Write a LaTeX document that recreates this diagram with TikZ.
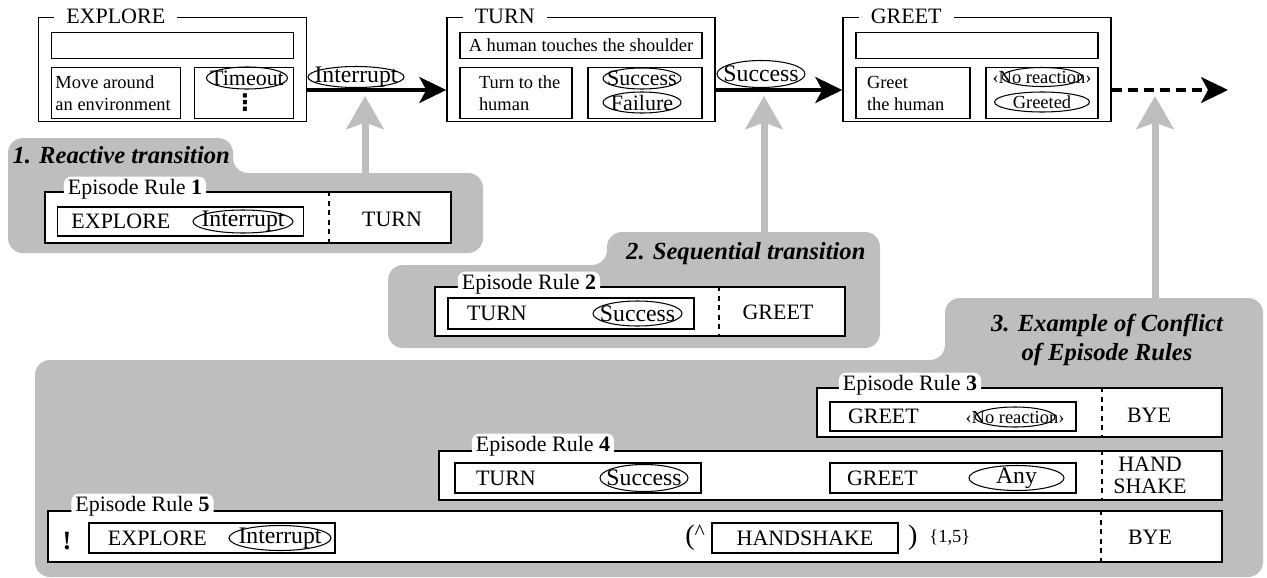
\documentclass[tikz,border=0pt]{standalone}
\usepackage{fontspec}
\setmainfont{Liberation Serif}
\newfontfamily\symfont{DejaVu Sans}
\usetikzlibrary{positioning,arrows.meta,calc,shapes.geometric}

\definecolor{shade}{RGB}{190,190,190}

\begin{document}
\begin{tikzpicture}[x=0.2mm,y=-0.2mm,line width=0.6pt,
    font=\fontsize{12.5}{14}\selectfont]

  \tikzset{
    rc/.style={rounded corners=3mm},
    group/.style={rc,fill=shade},
    frame/.style={draw,line width=0.8pt,minimum width=53.6mm,minimum height=20.8mm,inner sep=0pt},
    heading/.style={fill=white,inner xsep=2.4mm,inner ysep=0pt,anchor=west},
    goal/.style={draw,inner sep=0pt,minimum width=48.4mm,minimum height=5.2mm},
    slot/.style={draw,inner sep=0pt,minimum height=10.2mm},
    tag/.style={ellipse,draw,inner sep=0pt},
    word/.style={inner sep=0pt},
    small/.style={font=\fontsize{10.5}{12.5}\selectfont},
    big/.style={font=\fontsize{13.5}{15}\selectfont},
    rulebox/.style={draw,fill=white,line width=0.7pt,inner sep=0pt},
    rulename/.style={fill=white,rounded corners=1.5mm,inner xsep=0.8mm,inner ysep=0.5mm},
    cond/.style={draw,inner sep=0pt,minimum width=49.2mm,minimum height=6mm},
    sep/.style={dash pattern=on 1mm off 0.9mm},
    flow/.style={-{Stealth[length=5.4mm,width=5.2mm,inset=1.4mm]},line width=1.8pt},
    lift/.style={draw=shade,line width=1.4mm,-{Stealth[length=6.6mm,width=7.4mm,inset=1.3mm]}},
    caption/.style={inner sep=0pt,font=\fontsize{14}{17}\selectfont\bfseries\itshape}
  }

  \useasboundingbox (0,0) rectangle (1267,578);

  % GROUPS

  \fill[group] (8,200) -- (8,138) -- (233,138) -- (233,173) -- (483,173)
    -- (483,253) -- (8,253) -- cycle;
  \fill[group] (388,300) -- (388,265) -- (607,265) -- (607,232) -- (880,232)
    -- (880,348) -- (388,348) -- cycle;
  \fill[group] (35,450) -- (35,360) -- (945,360) -- (945,298) -- (1263,298)
    -- (1263,577) -- (35,577) -- cycle;

  \node[caption,anchor=west] (cap1) at (12,155) {1. Reactive transition};
  \node[caption,anchor=east] (cap2) at (866,254) {2. Sequential transition};
  \node[caption,align=center] (cap3) at (1107,340) {3. Example of Conflict\\of Episode Rules};

  \coordinate (lift1) at (365,180);
  \coordinate (lift2) at (764,240);
  \coordinate (lift3) at (1155,305);
  \coordinate (aim1) at (365,96);
  \coordinate (aim2) at (764,96);
  \coordinate (aim3) at (1155,96);
  \draw[lift] (lift1) -- (aim1);
  \draw[lift] (lift2) -- (aim2);
  \draw[lift] (lift3) -- (aim3);

  % EXPLORE

  \node[frame] (explore) at (172.5,69.5) {};
  \node[heading] (exploretitle) at ([xshift=3.2mm]explore.north west) {EXPLORE};
  \node[goal,below=3mm of explore.north] (exploregoal) {};
  \node[slot,minimum width=25.8mm,below right=1.7mm and 0mm of exploregoal.south west] (exploredo) {};
  \node[slot,minimum width=19.8mm,below left=1.7mm and 0mm of exploregoal.south east] (exploreend) {};
  \node[word,small,align=left,anchor=west] (exploretxt) at ([xshift=0.8mm]exploredo.west) {Move around\\an environment};
  \node[tag,minimum width=16.2mm,minimum height=4.4mm,label=center:Timeout] (timeout) at (247,78) {};
  \node[word,font=\symfont\fontsize{13}{13}\selectfont\bfseries] (more) at (245,103) {⋮};

  % TURN

  \node[frame] (turn) at (581,69.5) {};
  \node[heading] (turntitle) at ([xshift=3.2mm]turn.north west) {TURN};
  \node[goal,small,below=3mm of turn.north] (turngoal) {A human touches the shoulder};
  \node[slot,minimum width=22.4mm,below right=1.7mm and 0mm of turngoal.south west] (turndo) {};
  \node[slot,minimum width=22.8mm,below left=1.7mm and 0mm of turngoal.south east] (turnend) {};
  \node[word,small,align=left,anchor=west] (turntxt) at ([xshift=3.8mm]turndo.west) {Turn to the\\human};
  \node[tag,minimum width=15.6mm,minimum height=4.2mm,label=center:Success] (turnok) at (642,78.5) {};
  \node[tag,minimum width=15.6mm,minimum height=4.2mm,label=center:Failure] (turnfail) at (642,102.5) {};

  % GREET

  \node[frame] (greet) at (977,69.5) {};
  \node[heading] (greettitle) at ([xshift=3.2mm]greet.north west) {GREET};
  \node[goal,below=3mm of greet.north] (greetgoal) {};
  \node[slot,minimum width=22.8mm,below right=1.7mm and 0mm of greetgoal.south west] (greetdo) {};
  \node[slot,minimum width=22.4mm,below left=1.7mm and 0mm of greetgoal.south east] (greetend) {};
  \node[word,small,align=left,anchor=west] (greettxt) at ([xshift=2.2mm]greetdo.west) {Greet\\the human};
  \node[tag,minimum width=16mm,minimum height=3.8mm,label={[small]center:‹No reaction›}] (noreact) at (1042,77) {};
  \node[tag,minimum width=19mm,minimum height=4mm,label={[small]center:Greeted}] (greeted) at (1042,102) {};

  % TRANSITIONS

  \coordinate (flowy) at (0,90);
  \coordinate (beyond) at (1228,90);
  \draw[flow] (explore.east |- flowy) -- (turn.west |- flowy);
  \draw[flow] (turn.east |- flowy) -- (greet.west |- flowy);
  \draw[flow,dash pattern=on 2mm off 1.2mm] (greet.east |- flowy) -- (beyond);
  \node[tag,minimum width=19.2mm,minimum height=4.2mm,label={[big]center:Interrupt}] (intr) at (356,77) {};
  \node[tag,minimum width=17.6mm,minimum height=5.4mm,label={[big]center:Success}] (succ) at (761,74) {};

  % RULE 1

  \node[rulebox,minimum width=81.2mm,minimum height=10.2mm] (rule1) at (248,217.5) {};
  \node[rulename] (rule1name) at (135,189) {Episode Rule \textbf{1}};
  \node[cond,minimum height=5.8mm] (rule1if) at (180.5,221.5) {};
  \node[word,anchor=west] (rule1state) at ([xshift=2.8mm]rule1if.west) {EXPLORE};
  \node[tag,minimum width=20mm,minimum height=4.6mm,label={[big]center:Interrupt}] (rule1ev) at (243,221.5) {};
  \draw[sep] (rule1.north -| 329,0) -- (rule1.south -| 329,0);
  \node (rule1then) at (392,219) {TURN};

  % RULE 2

  \node[rulebox,minimum width=82mm,minimum height=9.8mm] (rule2) at (640,311.5) {};
  \node[rulename] (rule2name) at (529,284) {Episode Rule \textbf{2}};
  \node[cond,minimum height=6.2mm] (rule2if) at (571,313.5) {};
  \node[word,anchor=west] (rule2state) at ([xshift=3.8mm]rule2if.west) {TURN};
  \node[tag,minimum width=17.8mm,minimum height=5mm,label={[big]center:Success}] (rule2ev) at (637.5,313.5) {};
  \draw[sep] (rule2.north -| 719,0) -- (rule2.south -| 719,0);
  \node (rule2then) at (778,312) {GREET};

  % RULE 3

  \node[rulebox,minimum width=81mm,minimum height=9.8mm] (rule3) at (1019.5,412.5) {};
  \node[rulename] (rule3name) at (910,385) {Episode Rule \textbf{3}};
  \node[cond,minimum height=5.8mm] (rule3if) at (953,416.5) {};
  \node[word,anchor=west] (rule3state) at ([xshift=3.6mm]rule3if.west) {GREET};
  \node[tag,minimum width=16mm,minimum height=4mm,label={[small]center:‹No reaction›}] (rule3ev) at (1015,417) {};
  \draw[sep] (rule3.north -| 1102,0) -- (rule3.south -| 1102,0);
  \node (rule3then) at (1149,415) {BYE};

  % RULE 4

  \node[rulebox,minimum width=156.6mm,minimum height=9.8mm] (rule4) at (830.5,475.5) {};
  \node[rulename] (rule4name) at (543,446) {Episode Rule \textbf{4}};
  \node[cond] (rule4if) at (578,478) {};
  \node[word,anchor=west] (rule4state) at ([xshift=4.2mm]rule4if.west) {TURN};
  \node[tag,minimum width=17.6mm,minimum height=5.4mm,label={[big]center:Success}] (rule4ev) at (644,478) {};
  \node[cond] (rule4and) at (953,478) {};
  \node[word,anchor=west] (rule4state2) at ([xshift=3.4mm]rule4and.west) {GREET};
  \node[tag,minimum width=19mm,minimum height=5mm,label={[big]center:Any}] (rule4ev2) at (1016.5,478) {};
  \draw[sep] (rule4.north -| 1102,0) -- (rule4.south -| 1102,0);
  \node[align=center,font=\fontsize{12.5}{12.5}\selectfont] (rule4then) at (1150,475) {HAND\\SHAKE};

  % RULE 5

  \node[rulebox,minimum width=234.8mm,minimum height=10.2mm] (rule5) at (635,536.5) {};
  \node[rulename] (rule5name) at (142.5,506) {Episode Rule \textbf{5}};
  \node[font=\fontsize{15}{15}\selectfont\bfseries] (bang) at (67,541) {!};
  \node[cond] (rule5if) at (212,538) {};
  \node[word,anchor=west] (rule5state) at ([xshift=3.8mm]rule5if.west) {EXPLORE};
  \node[tag,minimum width=20.4mm,minimum height=5mm,label={[big]center:Interrupt}] (rule5ev) at (280,538) {};
  \node[cond,minimum width=37.2mm] (hs) at (805,538) {HANDSHAKE};
  \node[word,anchor=east] (open) at ([xshift=-1.2mm]hs.west) {{\fontsize{16}{16}\selectfont(}\raisebox{0.5ex}{\textasciicircum}};
  \node[word,anchor=west,font=\fontsize{16}{16}\selectfont] (close) at ([xshift=1.8mm]hs.east) {)};
  \node[word,small,anchor=west] (reps) at ([xshift=2.2mm]close.east) {\{1,5\}};
  \draw[sep] (rule5.north -| 1101,0) -- (rule5.south -| 1101,0);
  \node (rule5then) at (1150,537) {BYE};

\end{tikzpicture}
\end{document}
